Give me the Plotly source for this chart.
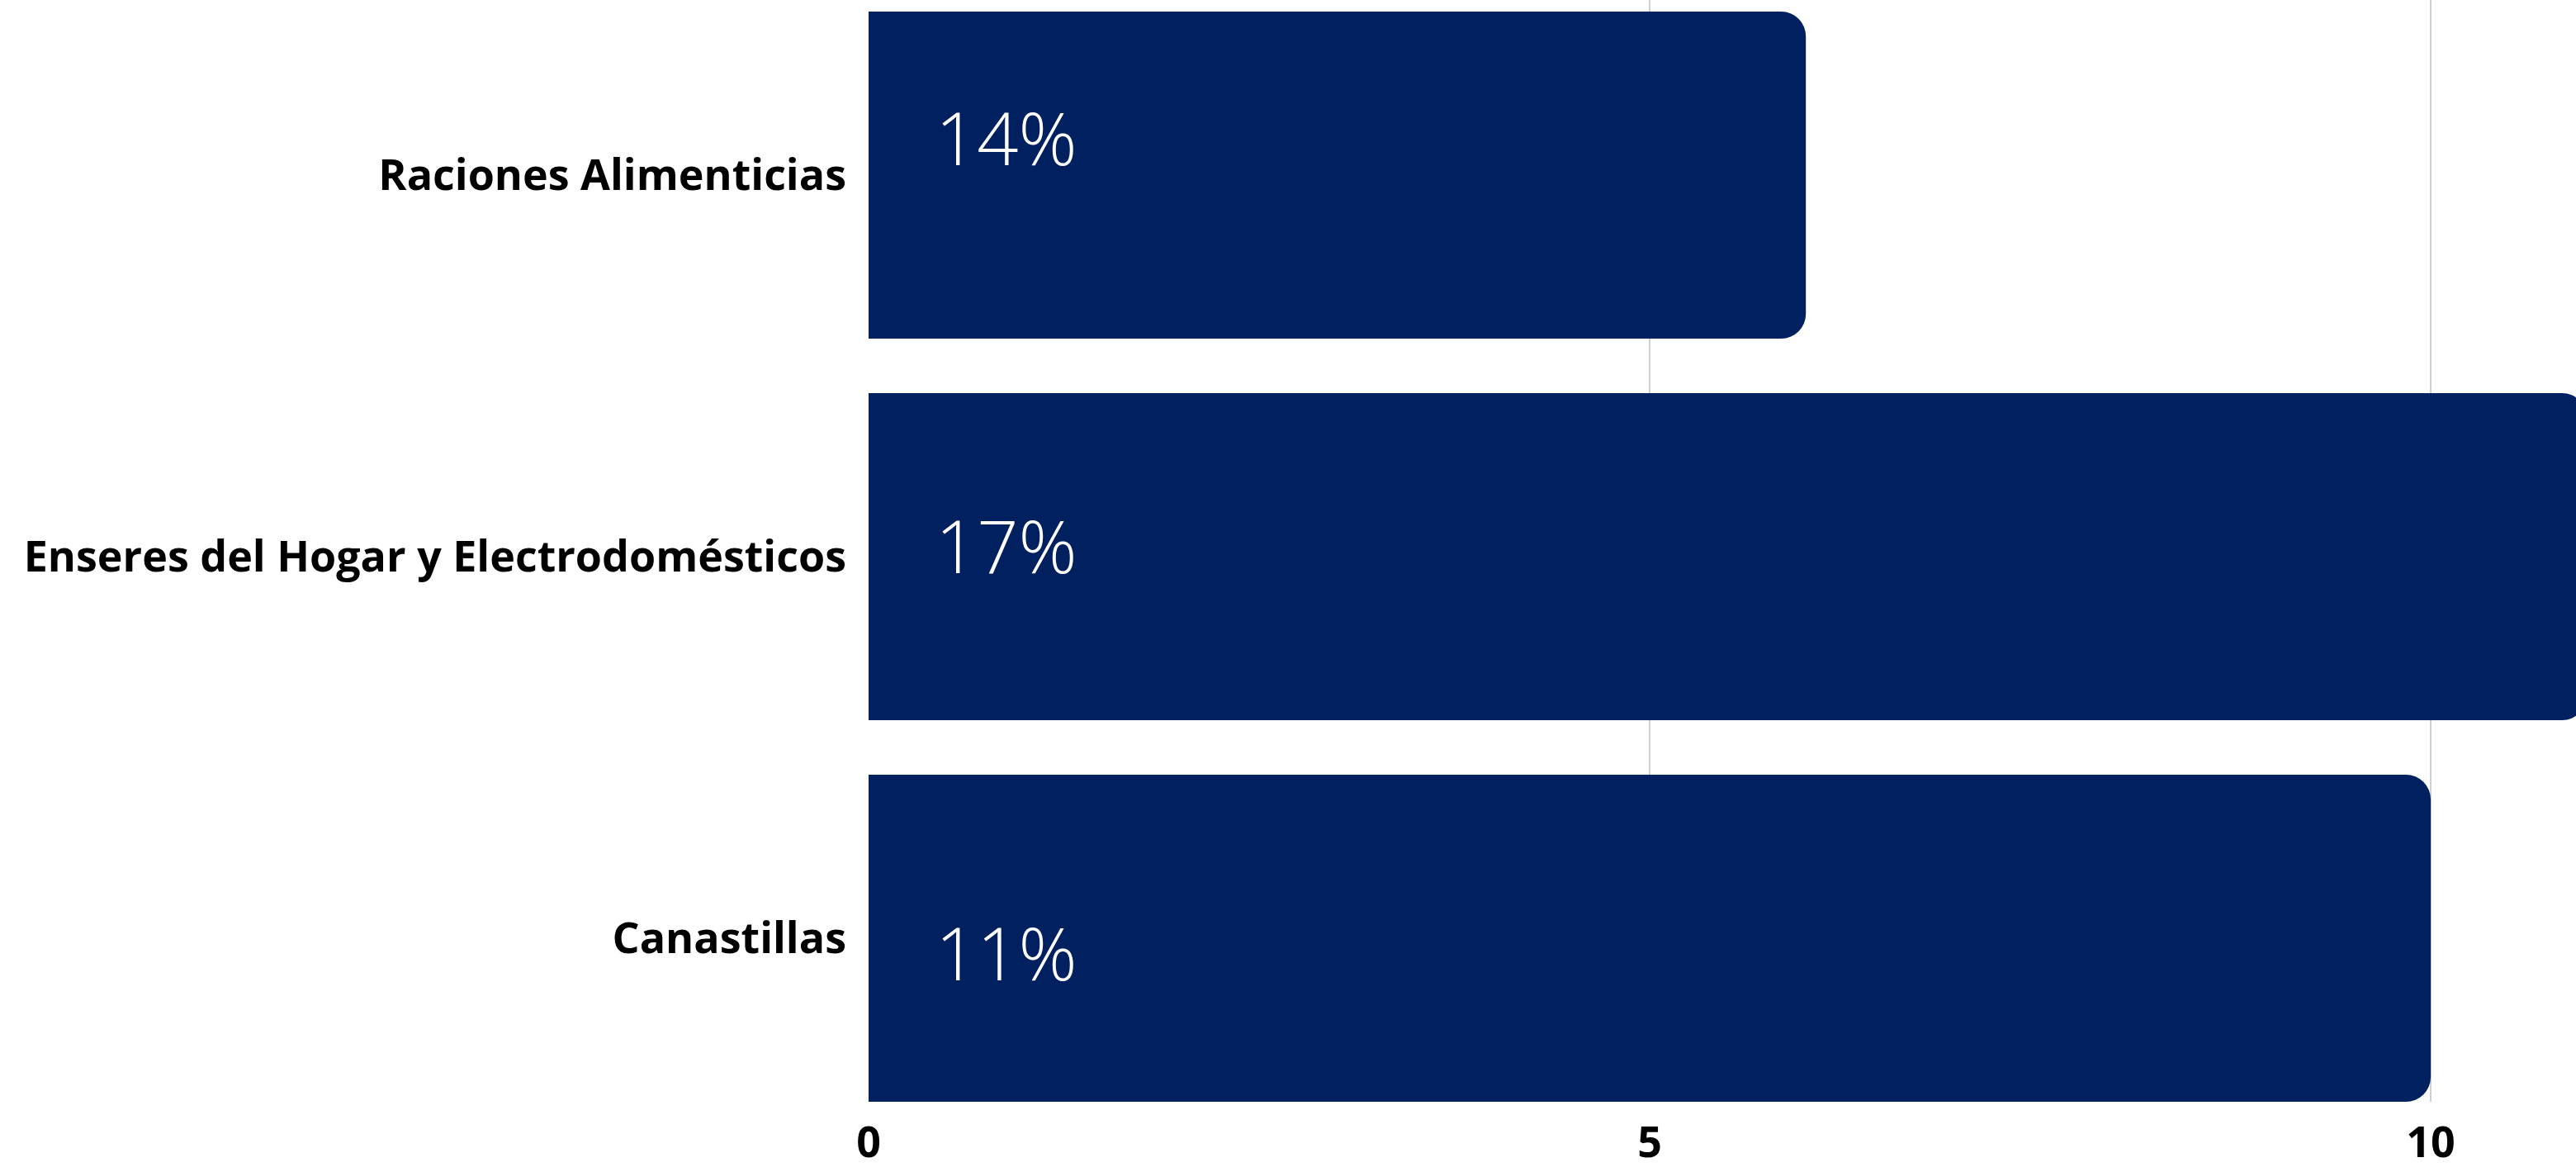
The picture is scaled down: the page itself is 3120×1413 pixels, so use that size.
import plotly.graph_objects as go

# Delivered aid by category (count) and share of total
categories = ["Raciones Alimenticias", "Enseres del Hogar y Electrodomésticos", "Canastillas"]
values = [6, 11, 10]
shares = ["14%", "17%", "11%"]
x_ticks = [0, 5, 10]

BAR_COLOR = "#012060"
FONT = "Open Sans"

fig = go.Figure(
    go.Bar(
        x=values,
        y=categories,
        orientation="h",
        marker=dict(color=BAR_COLOR, line=dict(width=0)),
        width=0.857,
        hoverinfo="skip",
    )
)

# share labels, placed near the start of each bar
label_shift = [46, 14, -17]
for cat, txt, dy in zip(categories, shares, label_shift):
    fig.add_annotation(
        x=0.42, y=cat, xref="x", yref="y",
        text=txt, showarrow=False, xanchor="left", yanchor="middle",
        yshift=dy,
        font=dict(family=FONT, size=88, color="white", weight=300),
    )

fig.update_layout(
    width=3120,
    height=1413,
    margin=dict(l=1052, r=0, t=0, b=79, pad=0),
    paper_bgcolor="white",
    plot_bgcolor="white",
    barcornerradius=30,
    showlegend=False,
    font=dict(family=FONT, color="black"),
    xaxis=dict(
        range=[0, 10.93],
        tickvals=x_ticks,
        showgrid=True,
        gridcolor="#d0d0d0",
        gridwidth=2,
        zeroline=False,
        showline=False,
        ticks="",
        tickfont=dict(family=FONT, size=52, color="black", weight="bold"),
        ticklabelstandoff=14,
        automargin=False,
    ),
    yaxis=dict(
        type="category",
        categoryorder="array",
        categoryarray=categories,
        range=[2.4286, -0.4589],
        showgrid=False,
        zeroline=False,
        showline=False,
        ticks="",
        tickfont=dict(family=FONT, size=52, color="black", weight="bold"),
        ticklabelstandoff=26,
        automargin=False,
    ),
)

fig.write_html("out.html")
